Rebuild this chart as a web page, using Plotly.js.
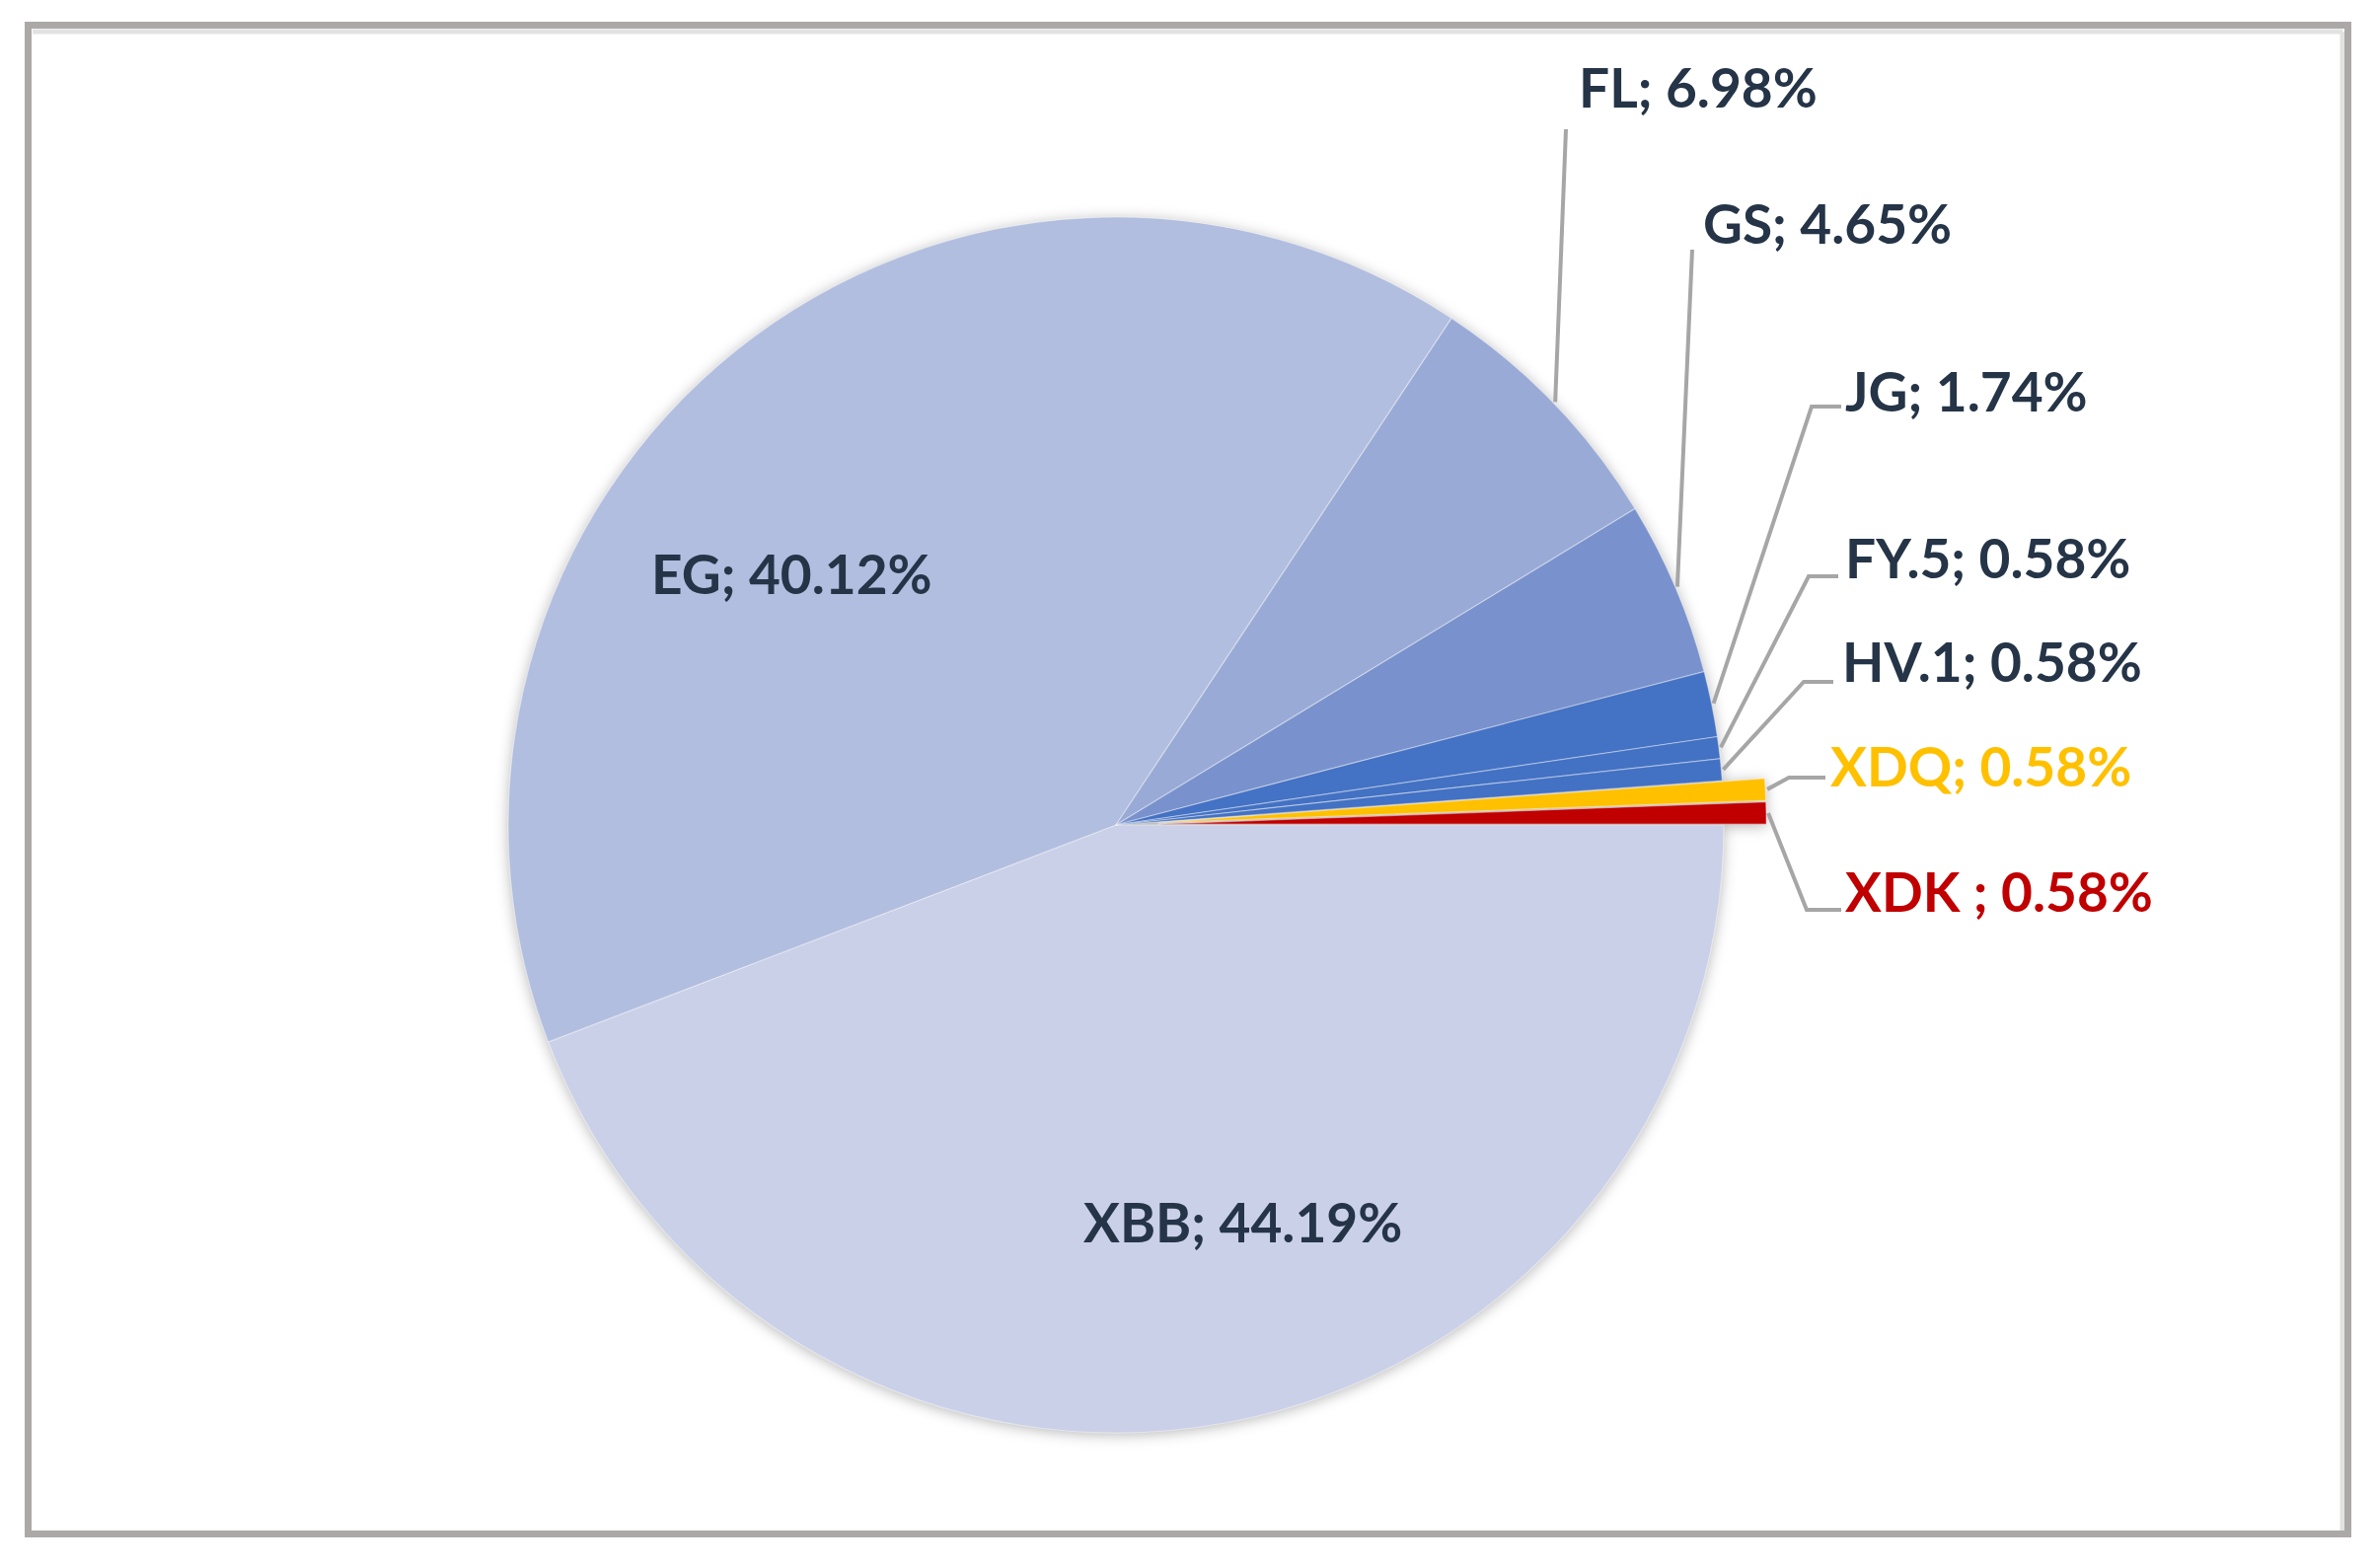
<!DOCTYPE html>
<html>
<head>
<meta charset="utf-8">
<script src="https://cdn.plot.ly/plotly-3.0.1.min.js"></script>
<style>
  html, body { margin: 0; padding: 0; background: #ffffff; }
  #chart { width: 2409px; height: 1589px; }
  #chart .pielayer { filter: drop-shadow(0px 2px 7px rgba(0,0,0,0.28)); }
</style>
</head>
<body>
<div id="chart"></div>
<script>
// ---- data ----
const categories = ['XBB', 'EG', 'FL', 'GS', 'JG', 'FY.5', 'HV.1', 'XDQ', 'XDK '];
const shares = [44.19, 40.12, 6.98, 4.65, 1.74, 0.58, 0.58, 0.58, 0.58];

// ---- styles ----
const sliceColors = ['#CAD0E8', '#B2BEDF', '#99AAD6', '#7992CD', '#4472C4', '#4371C3', '#4371C3', '#FFC000', '#C00000'];
const slicePull = [0, 0, 0, 0, 0, 0, 0, 0.07, 0.07];
const labelColors = ['#253447', '#253447', '#253447', '#253447', '#253447', '#253447', '#253447', '#FFC000', '#C00000'];

const W = 2409, H = 1589;
const CX = 1131, CY = 836, R = 616;   // pie centre / radius (px)
const maxPull = Math.max(...slicePull);
const half = R * (1 + maxPull);

// label placement (px): inside labels are centred, outside are left-anchored with leader lines
const labelPlace = {
  'XBB':  {x: 1259, y: 1238, inside: true},
  'EG':   {x: 802,  y: 581,  inside: true},
  'FL':   {x: 1598, y: 88,   path: [[1587, 131]]},
  'GS':   {x: 1724, y: 226,  path: [[1715, 253]]},
  'JG':   {x: 1868, y: 396,  path: [[1836, 412], [1866, 412]]},
  'FY.5': {x: 1868, y: 565,  path: [[1833, 584], [1863, 584]]},
  'HV.1': {x: 1865, y: 670,  path: [[1828, 691], [1858, 691]]},
  'XDQ':  {x: 1853, y: 776,  path: [[1813, 788], [1850, 788]]},
  'XDK ': {x: 1868, y: 903,  path: [[1831, 922], [1866, 922]]}
};

const px = x => x / W;
const py = y => 1 - y / H;

const total = shares.reduce((a, b) => a + b, 0);
const annotations = [];
const shapes = [];

// frame
shapes.push({type: 'line', xref: 'paper', yref: 'paper', x0: px(33), x1: px(2374), y0: py(32), y1: py(32),
  line: {color: '#E2E2E2', width: 5}});
shapes.push({type: 'line', xref: 'paper', yref: 'paper', x0: px(2374), x1: px(2374), y0: py(32), y1: py(1553),
  line: {color: '#E2E2E2', width: 5}});
shapes.push({type: 'rect', xref: 'paper', yref: 'paper', x0: px(28.5), x1: px(2379.5), y0: py(25.5), y1: py(1554.5),
  line: {color: '#ADA8A8', width: 7}, fillcolor: 'rgba(0,0,0,0)'});

let cum = 0;
categories.forEach((c, i) => {
  const mid = (cum + shares[i] / 2) / total * 2 * Math.PI; // clockwise from east
  cum += shares[i];
  const pl = labelPlace[c];
  const txt = c + '; ' + shares[i].toFixed(2) + '%';
  annotations.push({
    xref: 'paper', yref: 'paper', x: px(pl.x), y: py(pl.y),
    xanchor: pl.inside ? 'center' : 'left', yanchor: 'middle',
    text: txt, showarrow: false,
    font: {family: 'Lato, "Open Sans", sans-serif', size: 55, color: labelColors[i], weight: 700}
  });
  if (!pl.inside) {
    const rr = R * (1 + slicePull[i]) + 2;
    const sx = CX + rr * Math.cos(mid);
    const sy = CY + rr * Math.sin(mid);
    let d = 'M' + px(sx) + ',' + py(sy);
    pl.path.forEach(p => { d += ' L' + px(p[0]) + ',' + py(p[1]); });
    shapes.push({type: 'path', xref: 'paper', yref: 'paper', path: d,
      line: {color: '#A6A6A6', width: 4}});
  }
});

const trace = {
  type: 'pie',
  labels: categories,
  values: shares,
  sort: false,
  direction: 'clockwise',
  rotation: 90,
  pull: slicePull,
  textinfo: 'none',
  hoverinfo: 'none',
  showlegend: false,
  marker: {colors: sliceColors, line: {color: 'rgba(255,255,255,0.4)', width: 1.2}},
  domain: {x: [px(CX - half), px(CX + half)], y: [py(CY + half), py(CY - half)]}
};

const layout = {
  width: W, height: H,
  margin: {l: 0, r: 0, t: 0, b: 0},
  paper_bgcolor: '#ffffff',
  plot_bgcolor: '#ffffff',
  showlegend: false,
  annotations: annotations,
  shapes: shapes
};

Plotly.newPlot('chart', [trace], layout, {staticPlot: true, displayModeBar: false});
</script>
</body>
</html>
